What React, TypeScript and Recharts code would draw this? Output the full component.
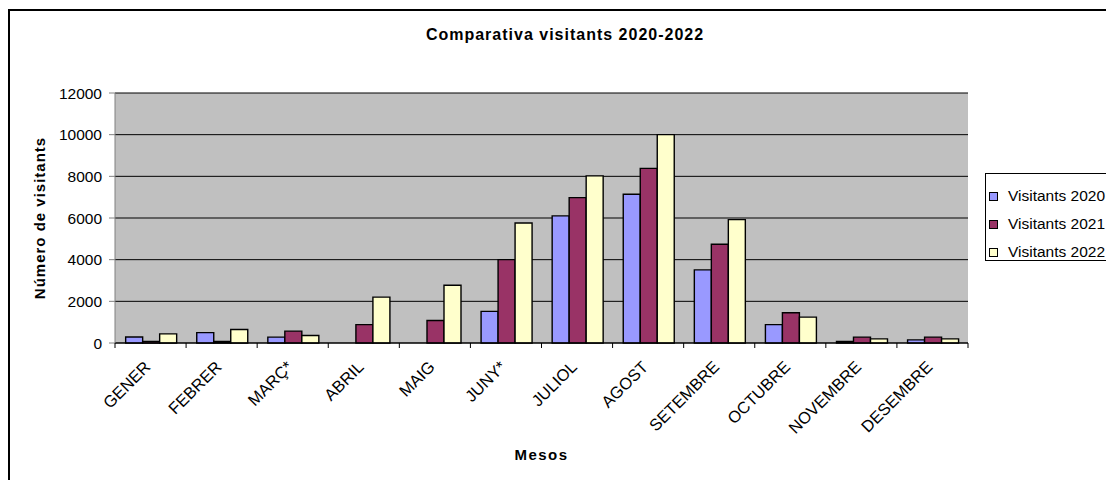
import React from 'react';
import { BarChart, Bar, XAxis, YAxis, CartesianGrid, Legend } from 'recharts';

const months = ['GENER', 'FEBRER', 'MARÇ*', 'ABRIL', 'MAIG', 'JUNY*', 'JULIOL', 'AGOST', 'SETEMBRE', 'OCTUBRE', 'NOVEMBRE', 'DESEMBRE'];
const visitants2020 = [290, 500, 280, 0, 0, 1520, 6100, 7140, 3510, 880, 70, 150];
const visitants2021 = [80, 70, 570, 880, 1080, 4000, 6980, 8380, 4740, 1450, 280, 280];
const visitants2022 = [440, 650, 360, 2200, 2770, 5760, 8020, 10000, 5920, 1240, 200, 200];
const yTicks = [0, 2000, 4000, 6000, 8000, 10000, 12000];

const series = [
  { key: 'v2020', name: 'Visitants 2020', color: '#9999FF' },
  { key: 'v2021', name: 'Visitants 2021', color: '#993366' },
  { key: 'v2022', name: 'Visitants 2022', color: '#FFFFCC' },
];

const data = months.map((m, i) => ({
  month: m,
  v2020: visitants2020[i],
  v2021: visitants2021[i],
  v2022: visitants2022[i],
}));

const W = 1106;
const H = 472;
const margin = { top: 85, right: 146, left: 0, bottom: 0 };
const yAxisWidth = 107;
const xAxisHeight = 137;
const plotWidth = W - margin.right - yAxisWidth;
const band = plotWidth / months.length;
const font = "Arial, 'Liberation Sans', sans-serif";

function MonthTick(props: any) {
  const { x, y, payload, index } = props;
  const left = x - band / 2;
  const ax = x + 1;
  const ay = y + 25;
  return (
    <g>
      <line x1={left} y1={y} x2={left} y2={y + 5} stroke="#000" />
      {index === months.length - 1 && (
        <line x1={x + band / 2} y1={y} x2={x + band / 2} y2={y + 5} stroke="#000" />
      )}
      <text
        x={ax}
        y={ay}
        textAnchor="end"
        fontSize={16.5}
        fontFamily={font}
        fill="#000"
        transform={`rotate(-45, ${ax}, ${ay})`}
      >
        {payload.value}
      </text>
    </g>
  );
}

function LegendBox() {
  return (
    <div
      style={{
        border: '1px solid #000',
        background: '#fff',
        width: 140,
        height: 88,
        boxSizing: 'border-box',
        padding: '8px 0 0 3px',
        fontFamily: font,
        fontSize: 15.5,
      }}
    >
      {series.map((s) => (
        <div key={s.key} style={{ display: 'flex', alignItems: 'center', height: 28 }}>
          <span
            style={{
              width: 7,
              height: 7,
              background: s.color,
              border: '1px solid #000',
              marginRight: 10,
              display: 'inline-block',
            }}
          />
          <span>{s.name}</span>
        </div>
      ))}
    </div>
  );
}

export default function App() {
  return (
    <div style={{ position: 'relative', width: W, height: H, overflow: 'hidden', background: '#fff' }}>
      <div
        style={{
          position: 'absolute',
          left: 0,
          top: 1,
          width: 2000,
          height: 2000,
          border: '2px solid #000',
        }}
      />
      <div
        style={{
          position: 'absolute',
          left: 0,
          top: 18,
          width: 1114,
          textAlign: 'center',
          fontFamily: font,
          fontWeight: 'bold',
          fontSize: 16,
          letterSpacing: 1,
        }}
      >
        Comparativa visitants 2020-2022
      </div>
      <BarChart
        width={W}
        height={H}
        data={data}
        margin={margin}
        barCategoryGap="15%"
        barGap={0}
        style={{ position: 'absolute', left: 0, top: 0 }}
      >
        <CartesianGrid vertical={false} fill="#C0C0C0" stroke="#000" strokeDasharray="" />
        <XAxis
          dataKey="month"
          height={xAxisHeight}
          interval={0}
          tick={<MonthTick />}
          tickLine={false}
          tickSize={0}
          tickMargin={0}
          stroke="#000"
          label={{
            value: 'Mesos',
            position: 'insideBottom',
            offset: 20,
            fontFamily: font,
            fontWeight: 'bold',
            fontSize: 15,
            letterSpacing: 1.5,
            fill: '#000',
          }}
        />
        <YAxis
          width={yAxisWidth}
          domain={[0, 12000]}
          ticks={yTicks}
          interval={0}
          tickSize={6}
          tickMargin={7}
          stroke="#808080"
          tick={{ fill: '#000', fontSize: 15.5, fontFamily: font }}
          label={{
            value: 'Número de visitants',
            angle: -90,
            position: 'insideLeft',
            offset: 32,
            fontFamily: font,
            fontWeight: 'bold',
            fontSize: 15,
            letterSpacing: 1,
            fill: '#000',
            style: { textAnchor: 'middle' },
          }}
        />
        <Legend
          layout="vertical"
          align="center"
          verticalAlign="middle"
          content={<LegendBox />}
          wrapperStyle={{ left: 977, top: 165, width: 140, height: 88 }}
        />
        {series.map((s) => (
          <Bar
            key={s.key}
            dataKey={s.key}
            name={s.name}
            fill={s.color}
            stroke="#000"
            strokeWidth={1.4}
            isAnimationActive={false}
          />
        ))}
      </BarChart>
    </div>
  );
}
